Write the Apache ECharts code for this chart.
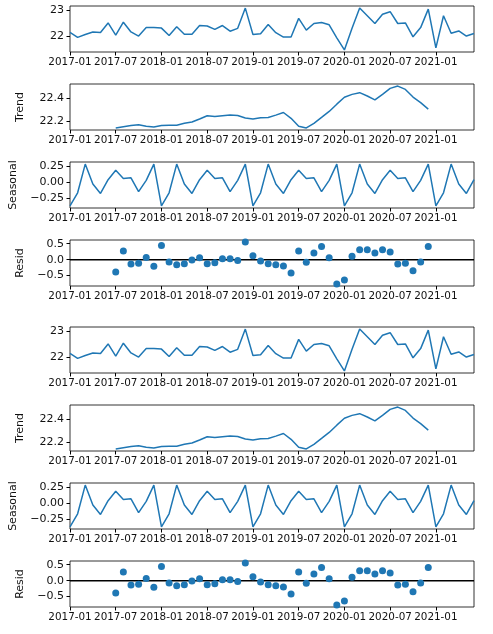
<!DOCTYPE html>
<html><head><meta charset="utf-8">
<script src="https://cdn.jsdelivr.net/npm/echarts@6/dist/echarts.min.js"></script>
<style>html,body{margin:0;padding:0;background:#fff}#c{width:493px;height:634px}</style>
</head><body><div id="c"></div><script>
const months = ['2017-01','2017-02','2017-03','2017-04','2017-05','2017-06','2017-07','2017-08','2017-09','2017-10','2017-11','2017-12',
'2018-01','2018-02','2018-03','2018-04','2018-05','2018-06','2018-07','2018-08','2018-09','2018-10','2018-11','2018-12',
'2019-01','2019-02','2019-03','2019-04','2019-05','2019-06','2019-07','2019-08','2019-09','2019-10','2019-11','2019-12',
'2020-01','2020-02','2020-03','2020-04','2020-05','2020-06','2020-07','2020-08','2020-09','2020-10','2020-11','2020-12',
'2021-01','2021-02','2021-03','2021-04','2021-05','2021-06'];

const xTickLabels = ['2017-01','2017-07','2018-01','2018-07','2019-01','2019-07','2020-01','2020-07','2021-01'];

const observed = [22.13,21.94,22.05,22.15,22.13,22.50,22.03,22.53,22.15,21.99,22.32,22.32,
22.30,22.01,22.35,22.06,22.06,22.40,22.38,22.25,22.40,22.18,22.29,23.08,
22.05,22.08,22.44,22.12,21.95,21.95,22.68,22.22,22.48,22.52,22.43,21.92,
21.45,22.29,23.08,22.78,22.48,22.84,22.94,22.48,22.50,21.96,22.32,23.04,
21.53,22.78,22.10,22.19,21.99,22.09];

const trend = [null,null,null,null,null,null,
22.143,22.154,22.163,22.171,22.157,22.151,
22.163,22.166,22.166,22.183,22.194,22.220,22.249,22.243,22.249,22.254,22.251,22.229,
22.220,22.231,22.234,22.254,22.277,22.226,22.157,22.143,22.183,22.234,22.286,22.349,
22.409,22.434,22.449,22.420,22.386,22.434,22.486,22.506,22.477,22.411,22.363,22.306,
null,null,null,null,null,null];

const seasonal = [-0.38,-0.17,0.29,-0.03,-0.18,0.04,0.19,0.06,0.07,-0.15,0.03,0.29,
-0.38,-0.17,0.29,-0.03,-0.18,0.04,0.19,0.06,0.07,-0.15,0.03,0.29,
-0.38,-0.17,0.29,-0.03,-0.18,0.04,0.19,0.06,0.07,-0.15,0.03,0.29,
-0.38,-0.17,0.29,-0.03,-0.18,0.04,0.19,0.06,0.07,-0.15,0.03,0.29,
-0.38,-0.17,0.29,-0.03,-0.18,0.04];

const resid = [null,null,null,null,null,null,
-0.39,0.27,-0.14,-0.11,0.07,-0.21,
0.44,-0.07,-0.16,-0.13,-0.01,0.06,-0.13,-0.10,0.03,0.03,-0.03,0.55,
0.12,-0.04,-0.13,-0.16,-0.20,-0.42,0.27,-0.08,0.21,0.41,0.06,-0.76,
-0.64,0.11,0.31,0.31,0.21,0.31,0.24,-0.14,-0.11,-0.35,-0.07,0.41,
null,null,null,null,null,null];

const obsTicks = [22, 23];
const trendTicks = [22.2, 22.4];
const seasTicks = [-0.25, 0, 0.25];
const residTicks = [-0.5, 0, 0.5];

const FONT = 'DejaVu Sans';
const FS = 11;
const XFS = 10.4;
const BLUE = '#1f77b4';
const TXT = '#111';

const xTickPos = xTickLabels.map(l => months.indexOf(l));

function lims(arr, extra) {
  const v = arr.filter(x => x != null).concat(extra || []);
  const mn = Math.min(...v), mx = Math.max(...v);
  const m = (mx - mn) * 0.05;
  return [mn - m, mx + m];
}
function fmt(dec) {
  return v => { const s = Math.abs(v).toFixed(dec); return (v < -1e-9 ? '\u2212' : '') + s; };
}
function pairs(arr) { return arr.map((v, i) => [i, v]); }

const grids = [], xAxes = [], yAxes = [], series = [];
const panels = [
  {data: observed, ticks: obsTicks, dec: 0, name: '', gap: 0, kind: 'line'},
  {data: trend, ticks: trendTicks, dec: 1, name: 'Trend', gap: 44, kind: 'line'},
  {data: seasonal, ticks: seasTicks, dec: 2, name: 'Seasonal', gap: 51, kind: 'line'},
  {data: resid, ticks: residTicks, dec: 1, name: 'Resid', gap: 44, kind: 'scatter'}
];
const copyTops = [6, 327];
const H = 46, STEP = 78;

copyTops.forEach(base => {
  panels.forEach((p, j) => {
    const idx = grids.length;
    grids.push({left: 70, width: 404, top: base + j * STEP, height: H,
      show: true, borderColor: '#000', borderWidth: 0.8, backgroundColor: 'transparent'});
    xAxes.push({type: 'value', gridIndex: idx, min: 0, max: months.length - 1, position: 'bottom',
      axisLine: {show: false, onZero: false},
      axisTick: {show: true, customValues: xTickPos, length: 3.5, lineStyle: {color: '#000', width: 1}},
      axisLabel: {customValues: xTickPos, margin: 5, fontFamily: FONT, fontSize: XFS, color: TXT,
        showMinLabel: true, showMaxLabel: true, hideOverlap: false,
        formatter: v => months[Math.round(v)]},
      splitLine: {show: false}});
    const [mn, mx] = lims(p.data, p.kind === 'scatter' ? [0] : []);
    yAxes.push({type: 'value', gridIndex: idx, min: mn, max: mx,
      name: p.name, nameLocation: 'middle', nameRotate: 90, nameGap: p.gap,
      nameTextStyle: {fontFamily: FONT, fontSize: FS, color: TXT},
      axisLine: {show: false, onZero: false},
      axisTick: {show: true, length: 3.5, customValues: p.ticks, lineStyle: {color: '#000', width: 1}},
      axisLabel: {customValues: p.ticks, margin: 6, fontFamily: FONT, fontSize: FS, color: TXT, formatter: fmt(p.dec)},
      splitLine: {show: false}});
    if (p.kind === 'line') {
      series.push({type: 'line', xAxisIndex: idx, yAxisIndex: idx, data: pairs(p.data),
        showSymbol: false, symbol: 'none', connectNulls: false,
        lineStyle: {color: BLUE, width: 1.5}, itemStyle: {color: BLUE}, animation: false, silent: true});
    } else {
      series.push({type: 'line', xAxisIndex: idx, yAxisIndex: idx,
        data: [[0, 0], [months.length - 1, 0]], showSymbol: false, symbol: 'none',
        lineStyle: {color: '#000', width: 1.5}, z: 1, animation: false, silent: true});
      series.push({type: 'scatter', xAxisIndex: idx, yAxisIndex: idx, data: pairs(p.data).filter(d => d[1] != null),
        symbol: 'circle', symbolSize: 7, itemStyle: {color: BLUE, opacity: 1}, z: 3, animation: false, silent: true});
    }
  });
});

const chart = echarts.init(document.getElementById('c'), null, {renderer: 'canvas'});
chart.setOption({animation: false, grid: grids, xAxis: xAxes, yAxis: yAxes, series: series});
</script></body></html>
